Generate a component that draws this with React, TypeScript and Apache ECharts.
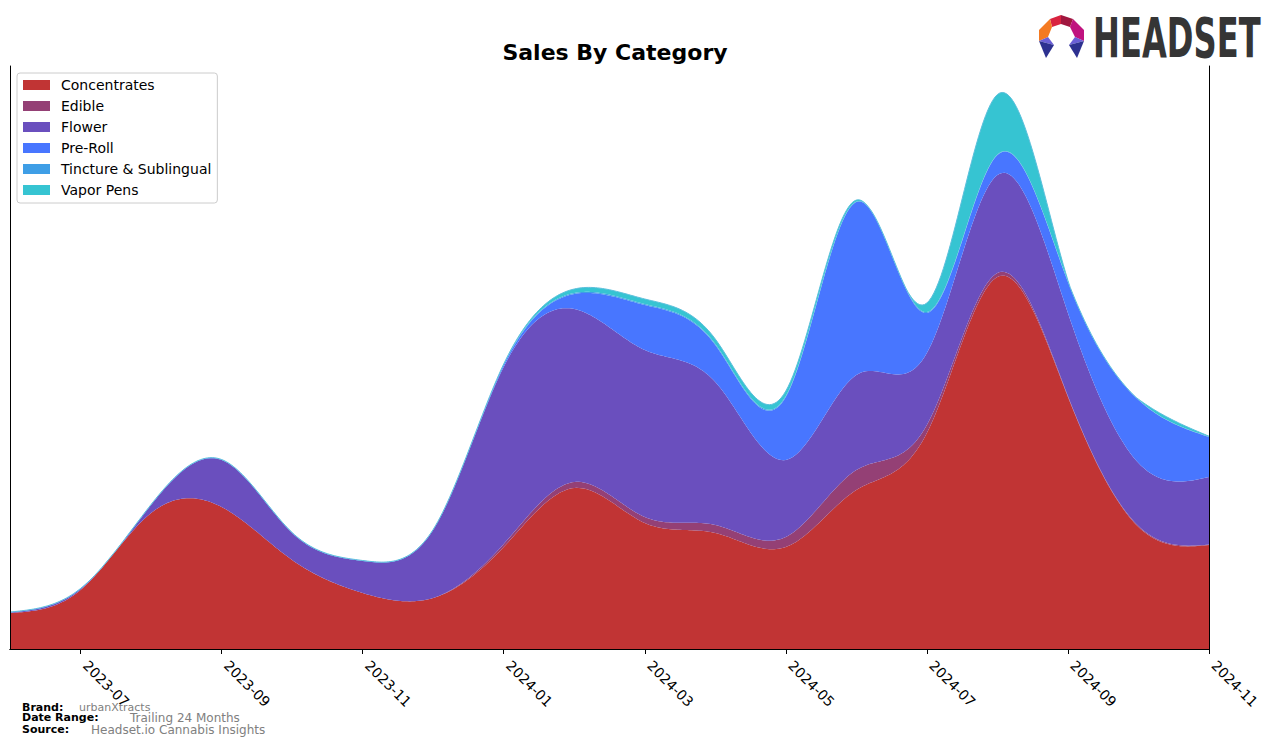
import React, { useEffect, useRef } from "react";
import * as echarts from "echarts";

const FONT = "DejaVu Sans";

const months = [
  "2023-06", "2023-07", "2023-08", "2023-09", "2023-10", "2023-11",
  "2023-12", "2024-01", "2024-02", "2024-03", "2024-04", "2024-05",
  "2024-06", "2024-07", "2024-08", "2024-09", "2024-10", "2024-11",
];

const categories = ["Concentrates", "Edible", "Flower", "Pre-Roll", "Tincture & Sublingual", "Vapor Pens"];
const colors = ["#c13434", "#944075", "#6a4fbe", "#4876ff", "#3e9ee6", "#36c4d2"];

const concentrates = [36, 59, 136, 142, 89, 56, 51, 102, 161, 126, 116, 102, 159, 216, 372, 252, 122, 104];
const edible = [0, 0, 0, 0, 0, 0, 0, 3, 6, 6, 8, 10, 20, 8, 4, 1, 1, 0.5];
const flower = [0.5, 1, 8, 47, 27, 32, 68, 177, 173, 167, 143, 77, 95, 72, 98, 83, 63, 67.5];
const preRoll = [0.3, 0.3, 0.3, 0.3, 0.3, 0.3, 0.3, 2, 15, 45, 37, 63, 173, 40, 20, 31, 63, 40];
const tincture = [0.2, 0.2, 0.2, 0.2, 0.2, 0.2, 0.2, 0.5, 1, 1, 1, 1, 0.5, 1, 0.5, 0.5, 0.3, 0.3];
const vaporPens = [0, 0, 0, 0, 0, 0, 0, 0.5, 4, 5, 5, 5, 1.5, 9, 60, 1, 0.5, 0.5];

const seriesValues = [concentrates, edible, flower, preRoll, tincture, vaporPens];

const footer = [
  { label: "Brand:", value: "urbanXtracts", valueX: 79, y: 707, valueSize: 11 },
  { label: "Date Range:", value: "Trailing 24 Months", valueX: 130, y: 717.5, valueSize: 12 },
  { label: "Source:", value: "Headset.io Cannabis Insights", valueX: 91, y: 729.5, valueSize: 12 },
];

const STEPS = 30;

// Natural cubic spline second derivatives for unit-spaced samples
function splineM(y: number[]): number[] {
  const n = y.length;
  const a = new Array(n).fill(0);
  const bdiag = new Array(n).fill(0);
  const c = new Array(n).fill(0);
  const d = new Array(n).fill(0);
  bdiag[0] = 1; bdiag[n - 1] = 1;
  for (let i = 1; i < n - 1; i++) {
    a[i] = 1; bdiag[i] = 4; c[i] = 1;
    d[i] = 6 * (y[i + 1] - 2 * y[i] + y[i - 1]);
  }
  const cp = new Array(n).fill(0);
  const dp = new Array(n).fill(0);
  cp[0] = c[0] / bdiag[0];
  dp[0] = d[0] / bdiag[0];
  for (let i = 1; i < n; i++) {
    const m = bdiag[i] - a[i] * cp[i - 1];
    cp[i] = c[i] / m;
    dp[i] = (d[i] - a[i] * dp[i - 1]) / m;
  }
  const M = new Array(n).fill(0);
  M[n - 1] = dp[n - 1];
  for (let i = n - 2; i >= 0; i--) M[i] = dp[i] - cp[i] * M[i + 1];
  return M;
}

function sampleSpline(y: number[], steps: number): number[] {
  const M = splineM(y);
  const out: number[] = [];
  for (let i = 0; i < y.length - 1; i++) {
    for (let s = 0; s < steps; s++) {
      const t = s / steps;
      const u = 1 - t;
      const v = u * y[i] + t * y[i + 1] + ((u * u * u - u) * M[i] + (t * t * t - t) * M[i + 1]) / 6;
      out.push(Math.max(0, v));
    }
  }
  out.push(Math.max(0, y[y.length - 1]));
  return out;
}

export default function App() {
  const ref = useRef<HTMLDivElement>(null);

  useEffect(() => {
    if (!ref.current) return;
    const chart = echarts.init(ref.current, undefined, { renderer: "svg" });

    const smoothed = seriesValues.map((vals) => sampleSpline(vals, STEPS));
    const nS = smoothed[0].length;
    const bounds: number[][] = [new Array(nS).fill(0)];
    smoothed.forEach((s, k) => {
      bounds.push(bounds[k].map((b, j) => b + s[j]));
    });

    const showOdd = (i: number) => i % 2 === 1;

    const series = categories.map((name, si) => ({
      name,
      type: "custom",
      silent: true,
      xAxisIndex: 0,
      yAxisIndex: 0,
      itemStyle: { color: colors[si] },
      encode: { x: 0, y: 1 },
      data: seriesValues[si].map((v, i) => [i, v]),
      renderItem: (params: any, api: any) => {
        if (params.dataIndex !== 0) return null;
        const x0 = api.coord([0, 0])[0];
        const x1 = api.coord([1, 0])[0];
        const step = (x1 - x0) / STEPS;
        const py = (v: number) => api.coord([0, v])[1];
        const lower = bounds[si];
        const upper = bounds[si + 1];
        const pts: number[][] = [];
        for (let j = 0; j < nS; j++) pts.push([x0 + j * step, py(upper[j])]);
        for (let j = nS - 1; j >= 0; j--) pts.push([x0 + j * step, py(lower[j])]);
        const children: any[] = [
          { type: "polygon", shape: { points: pts }, style: { fill: colors[si], stroke: null } },
        ];
        if (si === categories.length - 1) {
          const top: number[][] = [];
          for (let j = 0; j < nS; j++) top.push([x0 + j * step, py(upper[j])]);
          children.push({
            type: "polyline",
            shape: { points: top },
            style: { stroke: "#5cc0dc", lineWidth: 1, fill: null },
          });
        }
        return { type: "group", children };
      },
    }));

    const logoPolys = [
      { pts: [[1050, 19], [1061, 15], [1061, 24], [1052, 27]], fill: "#d9233f" },
      { pts: [[1061, 15], [1073, 19], [1070, 27], [1061, 24]], fill: "#a1173f" },
      { pts: [[1050, 19], [1052, 27], [1048, 37], [1039, 41], [1039, 30]], fill: "#f47a22" },
      { pts: [[1073, 19], [1084, 30], [1084, 41], [1075, 37], [1070, 27]], fill: "#c0137f" },
      { pts: [[1039, 41], [1048, 37], [1054, 45]], fill: "#6a5fd6" },
      { pts: [[1039, 41], [1054, 45], [1046, 58]], fill: "#2d3190" },
      { pts: [[1084, 41], [1075, 37], [1069, 45]], fill: "#6a5fd6" },
      { pts: [[1084, 41], [1069, 45], [1077, 58]], fill: "#2d3190" },
    ];

    const graphic: any[] = [];
    logoPolys.forEach((p) => {
      graphic.push({ type: "polygon", shape: { points: p.pts }, style: { fill: p.fill } });
    });
    graphic.push({
      type: "text",
      x: 1093,
      y: 38,
      scaleX: 0.585,
      style: {
        text: "HEADSET",
        fontFamily: FONT,
        fontSize: 55,
        fontWeight: "bold",
        fill: "#353535",
        align: "left",
        verticalAlign: "middle",
      },
    });
    footer.forEach((f) => {
      graphic.push({
        type: "text",
        x: 22,
        y: f.y,
        style: { text: f.label, fontFamily: FONT, fontSize: 11, fontWeight: "bold", fill: "#000", align: "left", verticalAlign: "middle" },
      });
      graphic.push({
        type: "text",
        x: f.valueX,
        y: f.y,
        style: { text: f.value, fontFamily: FONT, fontSize: f.valueSize, fill: "#808080", align: "left", verticalAlign: "middle" },
      });
    });

    chart.setOption({
      animation: false,
      backgroundColor: "#ffffff",
      title: {
        text: "Sales By Category",
        left: 610,
        top: 36,
        textAlign: "center",
        textStyle: { fontFamily: FONT, fontSize: 22, fontWeight: "bold", color: "#000" },
      },
      legend: {
        orient: "vertical",
        left: 17,
        top: 73,
        data: categories.map((c) => ({ name: c, icon: "rect" })),
        itemWidth: 27,
        itemHeight: 10,
        itemGap: 7,
        padding: [5, 6, 6, 6],
        borderColor: "#cccccc",
        borderWidth: 1,
        borderRadius: 3,
        backgroundColor: "#ffffff",
        textStyle: { fontFamily: FONT, fontSize: 14, color: "#000", padding: [0, 0, 0, 6] },
        selectedMode: false,
      },
      grid: { left: 10, top: 66, width: 1199, height: 583, containLabel: false },
      xAxis: [
        {
          type: "category",
          data: months,
          boundaryGap: false,
          position: "bottom",
          z: 5,
          axisLine: { show: true, lineStyle: { color: "#000", width: 1 } },
          axisTick: { show: true, interval: (i: number) => showOdd(i), length: 5, lineStyle: { color: "#000" } },
          axisLabel: {
            show: true,
            interval: (i: number) => showOdd(i),
            rotate: -45,
            margin: 19,
            align: "left",
            verticalAlign: "bottom",
            fontFamily: FONT,
            fontSize: 14,
            color: "#000",
          },
          splitLine: { show: false },
        },
        {
          type: "category",
          data: months,
          boundaryGap: false,
          position: "top",
          z: 5,
          axisLine: { show: true, lineStyle: { color: "#000", width: 1 } },
          axisTick: { show: false },
          axisLabel: { show: false },
          splitLine: { show: false },
        },
      ],
      yAxis: [
        {
          type: "value",
          min: 0,
          max: 583,
          position: "left",
          z: 5,
          axisLine: { show: true, lineStyle: { color: "#000", width: 1 } },
          axisTick: { show: false },
          axisLabel: { show: false },
          splitLine: { show: false },
        },
        {
          type: "value",
          min: 0,
          max: 583,
          position: "right",
          z: 5,
          axisLine: { show: true, lineStyle: { color: "#000", width: 1 } },
          axisTick: { show: false },
          axisLabel: { show: false },
          splitLine: { show: false },
        },
      ],
      series,
      graphic,
    });

    return () => chart.dispose();
  }, []);

  return (
    <div
      ref={ref}
      style={{ position: "absolute", left: 0, top: 0, width: 1276, height: 746 }}
    />
  );
}
